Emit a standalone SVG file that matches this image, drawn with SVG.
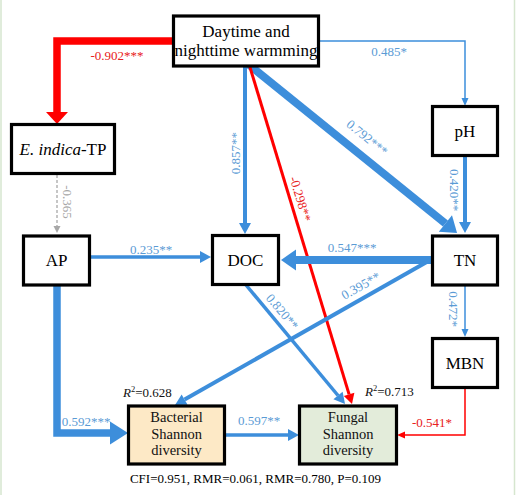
<svg xmlns="http://www.w3.org/2000/svg" width="516" height="495" viewBox="0 0 516 495" font-family="'Liberation Serif', 'Times New Roman', 'DejaVu Serif', serif">
<style>
.box{fill:#fff;stroke:#000;stroke-width:3.2}
.t{font-size:17px;fill:#000;text-anchor:middle}
.s{font-size:14.5px;fill:#111;text-anchor:middle}
.lb{font-size:13px;fill:#5b9bd5;text-anchor:middle}
.lr{font-size:13px;fill:#e82020;text-anchor:middle}
.lg{font-size:13px;fill:#a8a8a8;text-anchor:middle}
.r2{font-size:13px;fill:#111}
.b{fill:none;stroke:#3d8edb}
.r{fill:none;stroke:#ff0000}
.g{fill:none;stroke:#a8a8a8;stroke-dasharray:3 2}
</style>
<defs>
<marker id="bL" markerUnits="userSpaceOnUse" markerWidth="15" markerHeight="21" refX="0" refY="10.5" orient="auto" overflow="visible"><path d="M0,0 L15,10.5 L0,21 z" fill="#3d8edb"/></marker>
<marker id="bX" markerUnits="userSpaceOnUse" markerWidth="18" markerHeight="23" refX="0" refY="11.5" orient="auto" overflow="visible"><path d="M0,0 L18,11.5 L0,23 z" fill="#3d8edb"/></marker>
<marker id="bM" markerUnits="userSpaceOnUse" markerWidth="11" markerHeight="12" refX="0" refY="6" orient="auto" overflow="visible"><path d="M0,0 L11,6 L0,12 z" fill="#3d8edb"/></marker>
<marker id="bS" markerUnits="userSpaceOnUse" markerWidth="8" markerHeight="7" refX="0" refY="3.5" orient="auto" overflow="visible"><path d="M0,0 L8,3.5 L0,7 z" fill="#3d8edb"/></marker>
<marker id="rL" markerUnits="userSpaceOnUse" markerWidth="12" markerHeight="22" refX="0" refY="11" orient="auto" overflow="visible"><path d="M0,0 L12,11 L0,22 z" fill="#ff0000"/></marker>
<marker id="rM" markerUnits="userSpaceOnUse" markerWidth="10" markerHeight="11" refX="0" refY="5.5" orient="auto" overflow="visible"><path d="M0,0 L10,5.5 L0,11 z" fill="#ff0000"/></marker>
<marker id="rS" markerUnits="userSpaceOnUse" markerWidth="8" markerHeight="7" refX="0" refY="3.5" orient="auto" overflow="visible"><path d="M0,0 L8,3.5 L0,7 z" fill="#ff0000"/></marker>
<marker id="gS" markerUnits="userSpaceOnUse" markerWidth="7" markerHeight="7" refX="0" refY="3.5" orient="auto" overflow="visible"><path d="M0,0 L7,3.5 L0,7 z" fill="#a8a8a8"/></marker>
</defs>
<rect x="0" y="0" width="516" height="495" fill="#fff"/>
<line x1="1" y1="0" x2="1" y2="495" stroke="#d6e6cf" stroke-width="1.5"/>
<line x1="514.5" y1="0" x2="514.5" y2="495" stroke="#d6e6cf" stroke-width="1.5"/>

<g id="connectors">
<path class="r" d="M175,41 H57 V112" stroke-width="7.5" marker-end="url(#rL)"/>
<path class="g" d="M57,175 V226" stroke-width="1.3" marker-end="url(#gS)"/>
<path class="b" d="M319,41 H465 V98" stroke-width="1.5" marker-end="url(#bS)"/>
<path class="b" d="M245,66 V223" stroke-width="4" marker-end="url(#bM)"/>
<path class="b" d="M248,64 L445.4,223.5" stroke-width="8" marker-end="url(#bL)"/>
<path class="r" d="M249,64 L349.1,394.4" stroke-width="3" marker-end="url(#rM)"/>
<path class="b" d="M465,156 V222" stroke-width="4" marker-end="url(#bM)"/>
<path class="b" d="M90,257 H200" stroke-width="3.5" marker-end="url(#bM)"/>
<path class="b" d="M432,260 H296" stroke-width="8" marker-end="url(#bL)"/>
<path class="b" d="M432,259 L184.6,399.6" stroke-width="4" marker-end="url(#bM)"/>
<path class="b" d="M246,285 L338,395.5" stroke-width="3.5" marker-end="url(#bM)"/>
<path class="b" d="M465,285 V329" stroke-width="1.5" marker-end="url(#bS)"/>
<path class="r" d="M465,388 V435 H405" stroke-width="1.5" marker-end="url(#rS)"/>
<path class="b" d="M57,285 V433 H110" stroke-width="7.5" marker-end="url(#bX)"/>
<path class="b" d="M225,435 H288" stroke-width="3.5" marker-end="url(#bM)"/>

<text class="lr" x="117" y="60">-0.902***</text>
<text class="lg" transform="translate(63,202) rotate(90)" x="0" y="0">-0.365</text>
<text class="lb" x="389" y="56">0.485*</text>
<text class="lb" transform="translate(239.5,153) rotate(-90)" x="0" y="0">0.857**</text>
<text class="lb" transform="translate(367,138) rotate(39)" x="0" y="4">0.792***</text>
<text class="lr" transform="translate(300,199) rotate(73)" x="0" y="4">-0.298**</text>
<text class="lb" transform="translate(450,190) rotate(90)" x="0" y="0">0.420**</text>
<text class="lb" x="151" y="254">0.235**</text>
<text class="lb" x="352" y="252">0.547***</text>
<text class="lb" transform="translate(361,286) rotate(-29.6)" x="0" y="4">0.395**</text>
<text class="lb" transform="translate(282,312) rotate(50)" x="0" y="4">0.820**</text>
<text class="lb" transform="translate(449,309) rotate(90)" x="0" y="0">0.472*</text>
<text class="lr" x="432" y="427">-0.541*</text>
<text class="lb" x="86" y="426">0.592***</text>
<text class="lb" x="259" y="425">0.597**</text>
</g>

<g id="warming">
<rect class="box" x="173.5" y="16" width="145" height="50"/>
<text class="t" x="246" y="37">Daytime and</text>
<text class="t" x="246" y="56">nighttime warmming</text>
</g>
<g id="eindica">
<rect class="box" x="11.5" y="124.5" width="103" height="49"/>
<text class="t" x="63" y="155"><tspan font-style="italic">E. indica</tspan>-TP</text>
</g>
<g id="ph">
<rect class="box" x="432.5" y="106.5" width="65" height="49"/>
<text class="t" x="465" y="137">pH</text>
</g>
<g id="ap">
<rect class="box" x="23.5" y="236" width="66" height="49"/>
<text class="t" x="56.5" y="266">AP</text>
</g>
<g id="doc">
<rect class="box" x="212.5" y="235.5" width="66" height="49"/>
<text class="t" x="245.5" y="266">DOC</text>
</g>
<g id="tn">
<rect class="box" x="432.5" y="236" width="65" height="49"/>
<text class="t" x="465" y="266">TN</text>
</g>
<g id="mbn">
<rect class="box" x="432.5" y="338.5" width="65" height="49"/>
<text class="t" x="465" y="369">MBN</text>
</g>
<g id="bacterial">
<rect class="box" x="128.5" y="406" width="96" height="58" style="fill:#fde9c6"/>
<text class="s" x="176.5" y="422">Bacterial</text>
<text class="s" x="176.5" y="438.5">Shannon</text>
<text class="s" x="176.5" y="455">diversity</text>
<text class="r2" x="123" y="397"><tspan font-style="italic">R</tspan><tspan font-size="8.5" dy="-5">2</tspan><tspan dy="5">=0.628</tspan></text>
</g>
<g id="fungal">
<rect class="box" x="299.5" y="406" width="97" height="58" style="fill:#e3ecda"/>
<text class="s" x="348" y="422">Fungal</text>
<text class="s" x="348" y="438.5">Shannon</text>
<text class="s" x="348" y="455">diversity</text>
<text class="r2" x="365" y="396"><tspan font-style="italic">R</tspan><tspan font-size="8.5" dy="-5">2</tspan><tspan dy="5">=0.713</tspan></text>
</g>
<text class="t" x="255.5" y="483" style="font-size:13px">CFI=0.951, RMR=0.061, RMR=0.780, P=0.109</text>
</svg>
